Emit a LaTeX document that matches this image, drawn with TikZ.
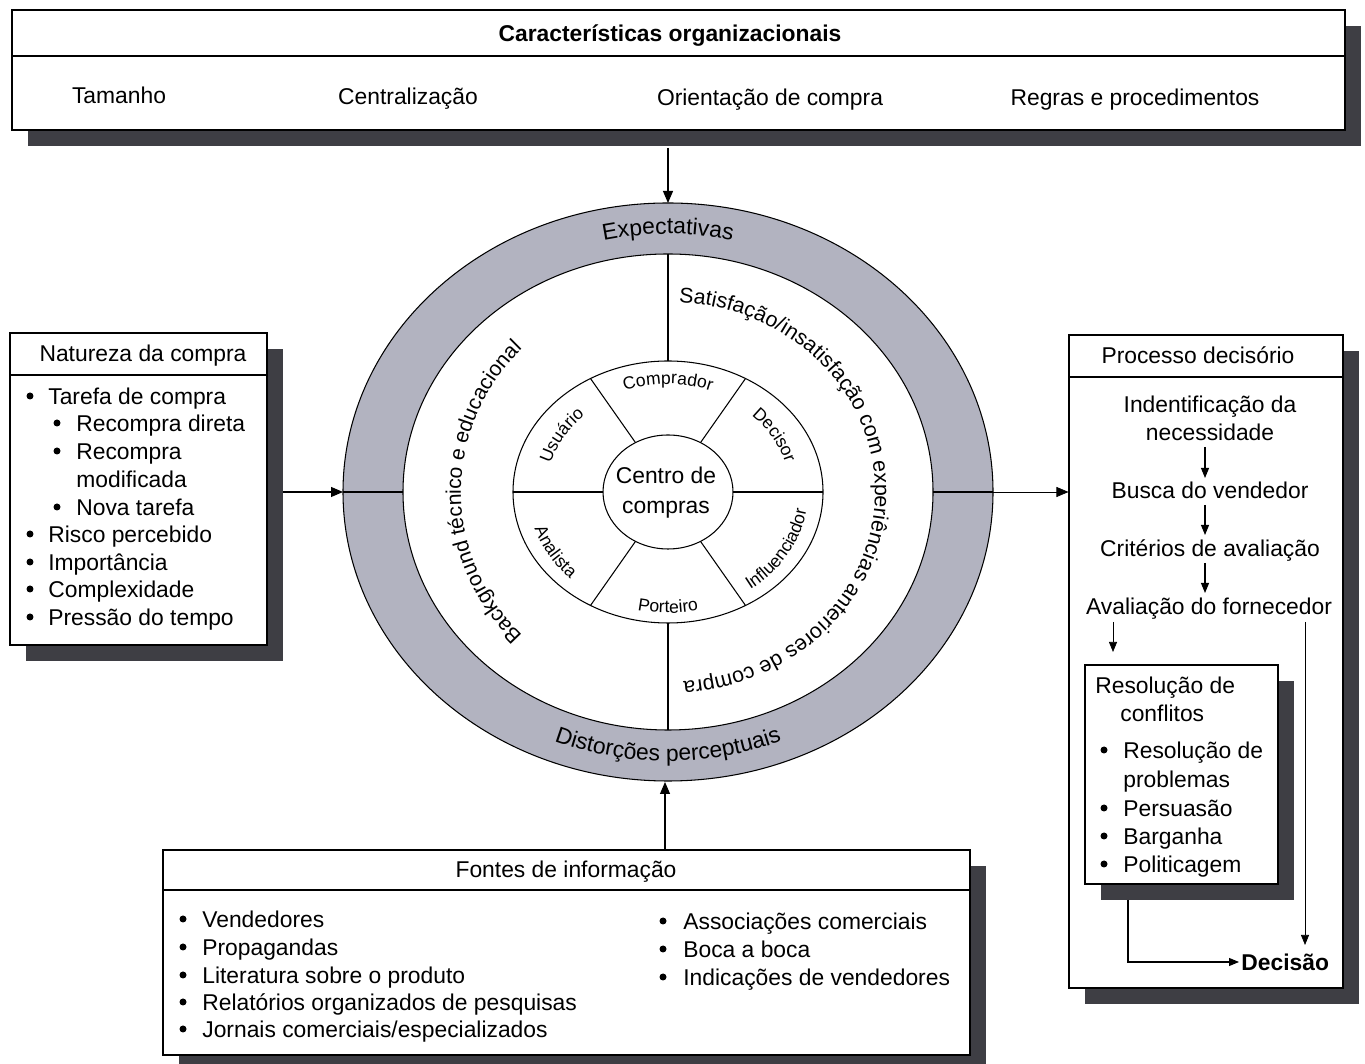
\documentclass[tikz,border=0pt]{standalone}
\usepackage{fontspec}
\setmainfont{Liberation Sans}
\usetikzlibrary{arrows.meta,decorations.text,fit,shadows}
\definecolor{ringc}{RGB}{178,179,192}
\definecolor{shadowc}{RGB}{62,62,68}
\newcommand\tfont{\fontsize{13}{16}\selectfont}
\newcommand\rfont{\fontsize{12}{14}\selectfont}
\newcommand\qfont{\fontsize{12.15}{14}\selectfont}
\newcommand\sfont{\fontsize{10}{12}\selectfont}
\begin{document}
\begin{tikzpicture}[x=0.02cm,y=0.02cm,
  box/.style={draw, fill=white, line width=0.6pt, inner sep=0pt,
    drop shadow={shadow xshift=0.32cm, shadow yshift=-0.32cm, fill=shadowc, opacity=1}},
  txt/.style={inner sep=0pt, font=\tfont, text height=9.4pt, text depth=0pt},
  lt/.style={txt, anchor=west},
  dot/.style={circle, fill, inner sep=0pt, minimum size=0.14cm},
  arr/.style={-{Triangle[length=0.24cm,width=0.2cm]}, line width=0.6pt},
  sarr/.style={-{Triangle[length=0.2cm,width=0.16cm]}, line width=0.6pt},
  ln/.style={line width=0.6pt},
]
\useasboundingbox (0,0) rectangle (1365,1064);

% ---------- top box ----------
\node[box, fit={(12,934) (1345,1054)}] (org) {};
\draw[ln] (org.west |- 0,1008) -- (org.east |- 0,1008);
\node[txt, font=\tfont\bfseries] (orgt) at (670,1031) {Características organizacionais};
\node[txt] (o1) at (119,969) {Tamanho};
\node[txt] (o2) at (408,968) {Centralização};
\node[txt] (o3) at (770,967) {Orientação de compra};
\node[txt] (o4) at (1135,967) {Regras e procedimentos};

% ---------- circle ----------
\coordinate (C) at (668,572);
\fill[ringc] (C) ellipse[x radius=325, y radius=289];
\fill[white] (C) ellipse[x radius=265, y radius=238];
\draw[ln] (C) ellipse[x radius=325, y radius=289];
\draw[ln] (C) ellipse[x radius=265, y radius=238];
\draw[ln] (C) ellipse[x radius=155, y radius=131];
\draw[ln] (C) ellipse[x radius=65, y radius=57];
\draw[ln] (C) +(90:265 and 238) -- +(90:155 and 131);
\draw[ln] (C) +(270:265 and 238) -- +(270:155 and 131);
\draw[ln] (C) +(180:325 and 289) -- +(180:265 and 238);
\draw[ln] (C) +(0:325 and 289) -- +(0:265 and 238);
\foreach \a in {0,60,120,180,240,300}
  \draw[ln] (C) +(\a:65 and 57) -- +(\a:155 and 131);

\coordinate (ringT) at (668,861);
\coordinate (ringB) at (665,282);
\coordinate (ringL) at (343,572);
\coordinate (ringR) at (993,572);

\node[inner sep=0pt, align=center, font=\tfont] (centro) at (666,571) {Centro de\\[1pt]compras};

% ring texts
\path[decorate, decoration={text along path, text align=center, text={|\tfont|Expectativas}}]
  (C) ++(125:292 and 258) arc[start angle=125, end angle=55, x radius=292, y radius=258];
\path[decorate, decoration={text along path, text align=center, text={|\tfont|Distorções perceptuais}}]
  (C) ++(212:300 and 269) arc[start angle=212, end angle=328, x radius=300, y radius=269];
\path[decorate, decoration={text along path, text={|\qfont|Satisfação/insatisfação com experiências anteriores de compra}}]
  (C) ++(87:207 and 190) arc[start angle=87, end angle=-105, x radius=207, y radius=190];
\path[decorate, decoration={text along path, text align=center, text={|\rfont|Background técnico e educacional}}]
  (C) ++(255:207 and 202) arc[start angle=255, end angle=105, x radius=207, y radius=202];

% middle ring labels
\path[decorate, decoration={text along path, text align=center, text={|\sfont|Comprador}}]
  (C) ++(130:124 and 108) arc[start angle=130, end angle=50, x radius=124, y radius=108];
\path[decorate, decoration={text along path, text align=center, text={|\sfont|Decisor}}]
  (C) ++(70:122 and 105) arc[start angle=70, end angle=-10, x radius=122, y radius=105];
\path[decorate, decoration={text along path, text align=center, text={|\sfont|Usuário}}]
  (C) ++(190:122 and 105) arc[start angle=190, end angle=110, x radius=122, y radius=105];
\path[decorate, decoration={text along path, text align=center, text={|\sfont|Porteiro}}]
  (C) ++(230:140 and 121) arc[start angle=230, end angle=310, x radius=140, y radius=121];
\path[decorate, decoration={text along path, text align=center, text={|\sfont|Influenciador}}]
  (C) ++(-75:140 and 121) arc[start angle=-75, end angle=15, x radius=140, y radius=121];
\path[decorate, decoration={text along path, text align=center, text={|\sfont|Analista}}]
  (C) ++(165:140 and 121) arc[start angle=165, end angle=255, x radius=140, y radius=121];

% ---------- Natureza da compra ----------
\node[box, fit={(10,419) (267,731)}] (nat) {};
\draw[ln] (nat.west |- 0,689) -- (nat.east |- 0,689);
\node[txt] (natt) at (143,711) {Natureza da compra};
\node[dot] (nd1) at (30,668) {}; \node[lt] (nt1) at (48,668) {Tarefa de compra};
\node[dot] (nd2) at (57,641) {}; \node[lt] (nt2) at (76,641) {Recompra direta};
\node[dot] (nd3) at (57,613) {}; \node[lt] (nt3) at (76,613) {Recompra};
\node[lt] (nt3b) at (76,585) {modificada};
\node[dot] (nd4) at (57,557) {}; \node[lt] (nt4) at (76,557) {Nova tarefa};
\node[dot] (nd5) at (30,530) {}; \node[lt] (nt5) at (48,530) {Risco percebido};
\node[dot] (nd6) at (30,502) {}; \node[lt] (nt6) at (48,502) {Importância};
\node[dot] (nd7) at (30,475) {}; \node[lt] (nt7) at (48,475) {Complexidade};
\node[dot] (nd8) at (30,447) {}; \node[lt] (nt8) at (48,447) {Pressão do tempo};
\coordinate (natout) at (283,572);

% ---------- Processo decisório ----------
\node[box, fit={(1069,76) (1343,729)}] (proc) {};
\draw[ln] (proc.west |- 0,687) -- (proc.east |- 0,687);
\node[txt] (proct) at (1198,709) {Processo decisório};
\node[txt] (p1) at (1210,660) {Indentificação da};
\node[txt] (p1b) at (1210,632) {necessidade};
\node[txt] (p2) at (1210,574) {Busca do vendedor};
\node[txt] (p3) at (1210,516) {Critérios de avaliação};
\node[txt] (p4) at (1209,458) {Avaliação do fornecedor};
\coordinate (a1s) at (1205,617); \coordinate (a1e) at (1205,586);
\coordinate (a2s) at (1205,559); \coordinate (a2e) at (1205,529);
\coordinate (a3s) at (1205,501); \coordinate (a3e) at (1205,471);
\draw[sarr] (a1s) -- (a1e);
\draw[sarr] (a2s) -- (a2e);
\draw[sarr] (a3s) -- (a3e);
\coordinate (a4s) at (1113,442); \coordinate (a4e) at (1113,412);
\draw[sarr, line width=0.4pt] (a4s) -- (a4e);
\coordinate (a5s) at (1305,442); \coordinate (a5e) at (1305,119);
\draw[sarr, line width=0.4pt] (a5s) -- (a5e);

\node[box, fit={(1085,180) (1278,399)}] (res) {};
\node[lt] (r1) at (1095,379) {Resolução de};
\node[lt] (r1b) at (1120,351) {conflitos};
\node[dot] (rd1) at (1104,314) {}; \node[lt] (r2) at (1123,314) {Resolução de};
\node[lt] (r2b) at (1123,285) {problemas};
\node[dot] (rd2) at (1104,256) {}; \node[lt] (r3) at (1123,256) {Persuasão};
\node[dot] (rd3) at (1104,228) {}; \node[lt] (r4) at (1123,228) {Barganha};
\node[dot] (rd4) at (1104,200) {}; \node[lt] (r5) at (1123,200) {Politicagem};
\node[lt, font=\tfont\bfseries] (dec) at (1241,102) {Decisão};
\coordinate (resout) at (1128,164);
\draw[sarr] (resout) |- ([xshift=-0.04cm]dec.west);

% ---------- Fontes de informação ----------
\node[box, fit={(163,9) (970,214)}] (fon) {};
\draw[ln] (fon.west |- 0,174) -- (fon.east |- 0,174);
\node[txt] (font) at (566,195) {Fontes de informação};
\foreach \y/\t [count=\i] in {145/Vendedores, 117/Propagandas, 89/{Literatura sobre o produto},
   62/{Relatórios organizados de pesquisas}, 35/{Jornais comerciais/especializados}} {
  \node[dot] (fld\i) at (183,\y) {};
  \node[lt] (flt\i) at (202,\y) {\t};
}
\foreach \y/\t [count=\i] in {143/{Associações comerciais}, 115/{Boca a boca}, 87/{Indicações de vendedores}} {
  \node[dot] (frd\i) at (663,\y) {};
  \node[lt] (frt\i) at (683,\y) {\t};
}

% ---------- connectors ----------
\coordinate (orgout) at (668,916);
\draw[arr] (orgout) -- (ringT);
\draw[arr] (natout) -- (ringL);
\draw[arr, line width=0.4pt] (ringR) -- (proc.west |- ringR);
\draw[arr] (fon.north -| ringB) -- (ringB);
\end{tikzpicture}
\end{document}
